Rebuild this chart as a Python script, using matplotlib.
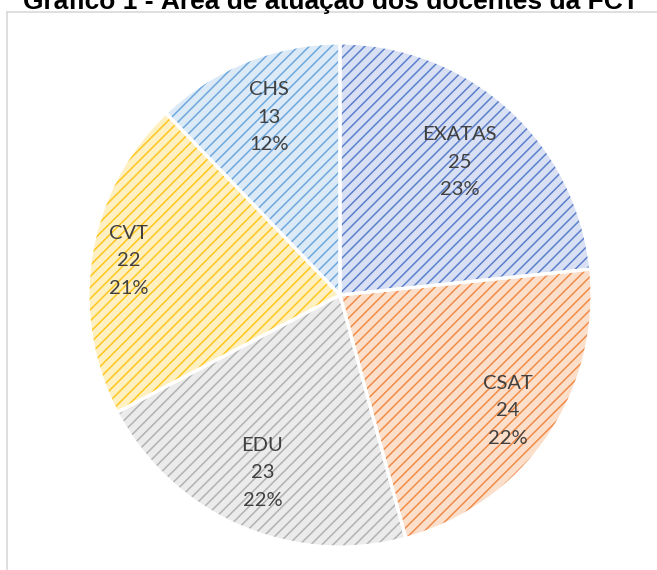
import matplotlib
matplotlib.use("Agg")
import matplotlib.pyplot as plt
from matplotlib.lines import Line2D
import numpy as np

categories = ["EXATAS", "CSAT", "EDU", "CVT", "CHS"]
values = [25, 24, 23, 22, 13]
pct_labels = ["23%", "22%", "22%", "21%", "12%"]
title = "Gráfico 1 - Área de atuação dos docentes da FCT"

line_colors = ["#5B80CC", "#F08B48", "#B2B2B2", "#FFC61F", "#6FA8DC"]
fill_colors = ["#D9E0F3", "#FCDFCB", "#EBEBEB", "#FFF0C2", "#DCEAF7"]
label_dist = [0.71, 0.81, 0.77, 0.85, 0.76]

plt.rcParams["hatch.linewidth"] = 1.1

fig = plt.figure(figsize=(6.57, 5.70), dpi=100)
W, H = 657, 570
cx, cy, r = 340, 295, 252
ax = fig.add_axes([(cx - r) / W, (H - cy - r) / H, 2 * r / W, 2 * r / H])

wedges, _ = ax.pie(values, startangle=90, counterclock=False, radius=1,
                   colors=fill_colors)
for w, lc in zip(wedges, line_colors):
    w.set_edgecolor(lc)
    w.set_linewidth(0)
    w.set_hatch("///")

ax.pie(values, startangle=90, counterclock=False, radius=1,
       wedgeprops=dict(fill=False, edgecolor="white", linewidth=2.3))

for w, cat, v, p, d in zip(wedges, categories, values, pct_labels, label_dist):
    ang = np.deg2rad((w.theta1 + w.theta2) / 2)
    ax.text(d * np.cos(ang), d * np.sin(ang), f"{cat}\n{v}\n{p}",
            ha="center", va="center", fontsize=14.5, family="Lato",
            color="#404040", linespacing=1.75)

ax.set_xlim(-1, 1)
ax.set_ylim(-1, 1)
ax.set_aspect("equal")
ax.axis("off")

# chart frame (top and left edges visible)
fig.add_artist(Line2D([7 / W, 1.0], [1 - 12 / H, 1 - 12 / H],
                      transform=fig.transFigure, color="#D9D9D9", lw=1.2))
fig.add_artist(Line2D([7 / W, 7 / W], [1 - 12 / H, 0],
                      transform=fig.transFigure, color="#D9D9D9", lw=1.2))

fig.text(331 / W, 1 - 8.7 / H, title, ha="center", va="baseline",
         fontsize=19, fontweight="bold", family="Liberation Sans", color="black")

fig.savefig("out.png", dpi=100, facecolor="white")
